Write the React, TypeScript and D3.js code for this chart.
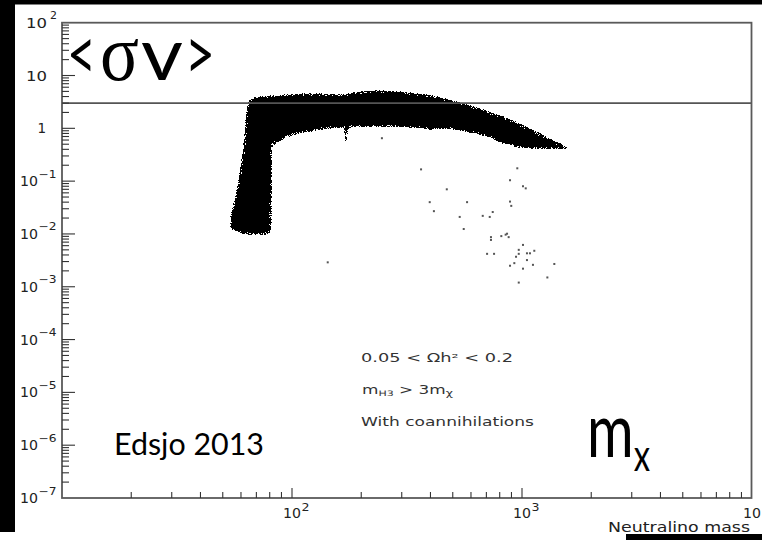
import React from "react";
import * as d3 from "d3";

const W = 762;
const H = 540;

// Dense band of neutralino models: mass (GeV) with lower and upper <σv> envelope
const bandMass = [53.8, 55.4, 58.3, 61.2, 63.1, 64.4, 69, 74, 79, 81.6, 82.2, 86, 95, 112, 132, 157, 168, 170, 172, 174, 176, 184, 241, 303, 385, 400, 420, 500, 590, 700, 830, 980, 1290, 1500, 1620];
const bandUpper = [0.022, 0.034, 0.105, 0.44, 1.95, 3.4, 3.9, 4.1, 4.2, 4.25, 4.27, 4.3, 4.4, 4.6, 4.6, 4.5, 4.45, 4.45, 4.45, 4.5, 4.6, 5.0, 5.3, 5.0, 4.45, 4.3, 4.1, 3.44, 2.8, 2.2, 1.7, 1.26, 0.69, 0.5, 0.41];
const bandLower = [0.013, 0.0115, 0.0108, 0.01, 0.0098, 0.0097, 0.0095, 0.0095, 0.0097, 0.012, 0.45, 0.52, 0.68, 0.81, 0.93, 1.0, 1.0, 0.6, 0.4, 0.6, 1.0, 1.05, 1.05, 1.05, 0.97, 0.9, 0.97, 0.95, 0.82, 0.7, 0.5, 0.42, 0.4, 0.4, 0.4];

// Isolated models below the band
const outlierMass = [364, 471, 397, 414, 577, 536, 558, 675, 724, 746, 954, 887, 1010, 1038, 887, 898, 733, 733, 813, 849, 861, 875, 705, 756, 1010, 968, 968, 1051, 1083, 1131, 942, 1051, 926, 887, 1116, 1010, 1382, 1289, 968, 143, 246];
const outlierSigmaV = [0.167, 0.07, 0.04, 0.027, 0.04, 0.021, 0.0124, 0.022, 0.021, 0.026, 0.175, 0.104, 0.08, 0.073, 0.041, 0.034, 0.0087, 0.0077, 0.0091, 0.0097, 0.0101, 0.0087, 0.0042, 0.0042, 0.0062, 0.005, 0.0042, 0.0043, 0.0043, 0.0048, 0.0037, 0.0032, 0.0028, 0.0025, 0.0026, 0.0022, 0.0027, 0.0015, 0.0012, 0.0029, 0.65];

// Thermal relic reference level
const relicSigmaV = 3;

// Axis labels
const xLabelExponents = [2, 3, 4];
const yLabelExponents = [2, 1, 0, -1, -2, -3, -4, -5, -6, -7];
const xAxisTitle = "Neutralino mass";
const cutLines = ["0.05 < Ωh² < 0.2", "With coannihilations"];

const axisFont = "DejaVu Sans";
const ink = "#222";

export default function App() {
  const x = d3.scaleLog().domain([10, 1e4]).range([62, 752]);
  const y = d3.scaleLog().domain([1e-7, 1e2]).range([498, 22.7]);
  const left = 62;
  const right = 751.5;
  const top = 22.7;
  const bottom = 498;

  const band = bandMass.map((m, i) => ({ m, hi: bandUpper[i], lo: bandLower[i] }));
  const area = d3
    .area<{ m: number; hi: number; lo: number }>()
    .x((d) => x(d.m))
    .y0((d) => y(d.lo))
    .y1((d) => y(d.hi))
    .curve(d3.curveLinear);

  const isMajor = (t: number) => Math.abs(Math.log10(t) - Math.round(Math.log10(t))) < 1e-6;
  const xTicks = x.ticks().filter((t) => t > 10 && t < 1e4);
  const yTicks = y.ticks().filter((t) => t > 1e-7 && t < 1e2);

  return (
    <svg
      width={W}
      height={H}
      viewBox={`0 0 ${W} ${H}`}
      style={{ position: "absolute", left: 0, top: 0, background: "#fff" }}
    >
      <defs>
        {/* grainy edge: scattered points thin out where the model density drops */}
        <filter id="grain" filterUnits="userSpaceOnUse" x={0} y={0} width={W} height={H}>
          <feGaussianBlur in="SourceAlpha" stdDeviation={1.2} result="soft" />
          <feTurbulence type="fractalNoise" baseFrequency={0.9} numOctaves={2} seed={7} result="noiseRaw" />
          <feComponentTransfer in="noiseRaw" result="noise">
            <feFuncA type="linear" slope={3} intercept={-1} />
          </feComponentTransfer>
          <feComposite in="soft" in2="noise" operator="arithmetic" k1={1} k2={1} k3={0} k4={-0.5} result="mix" />
          <feComponentTransfer in="mix" result="mask">
            <feFuncA type="discrete" tableValues="0 1" />
          </feComponentTransfer>
          <feFlood floodColor="#000" result="ink" />
          <feComposite in="ink" in2="mask" operator="in" />
        </filter>
      </defs>
      <rect x={0} y={0} width={W} height={H} fill="#fff" />
      {/* page edges */}
      <rect x={0} y={0} width={W} height={4.5} fill="#000" />
      <rect x={0} y={0} width={15} height={532} fill="#000" />
      <rect x={626} y={534} width={136} height={6} fill="#000" />

      {/* model band */}
      <path d={area(band) ?? ""} fill="#000" filter="url(#grain)" />
      {outlierMass.map((m, i) => (
        <rect key={i} x={x(m) - 1} y={y(outlierSigmaV[i]) - 1} width={2} height={2} fill="#555" />
      ))}

      {/* relic line */}
      <line x1={left} x2={right} y1={y(relicSigmaV)} y2={y(relicSigmaV)} stroke="#555" strokeWidth={1.6} />

      {/* frame */}
      <rect x={left} y={top} width={right - left} height={bottom - top} fill="none" stroke="#5a5a5a" strokeWidth={1.8} />

      {/* ticks */}
      {xTicks.map((t) => (
        <line key={"xt" + t} x1={x(t)} x2={x(t)} y1={bottom} y2={bottom - (isMajor(t) ? 10 : 6)} stroke="#333" strokeWidth={1.1} />
      ))}
      {yTicks.map((t) => (
        <line key={"yt" + t} x1={left} x2={left + (isMajor(t) ? 13 : 7)} y1={y(t)} y2={y(t)} stroke="#333" strokeWidth={1.1} />
      ))}

      {/* x labels */}
      {xLabelExponents.map((e) => {
        const cx = x(Math.pow(10, e));
        return (
          <g key={"xl" + e} fill={ink} fontFamily={axisFont}>
            <text x={cx} y={518} fontSize={13.5} textAnchor="middle" textLength={18} lengthAdjust="spacingAndGlyphs">10</text>
            {cx + 9.5 < W - 4 && (
              <text x={cx + 9.5} y={510.5} fontSize={10} textLength={8} lengthAdjust="spacingAndGlyphs">{e}</text>
            )}
          </g>
        );
      })}
      <text x={608} y={532} fontFamily={axisFont} fontSize={13.5} fill={ink} textLength={142} lengthAdjust="spacingAndGlyphs">
        {xAxisTitle}
      </text>

      {/* y labels */}
      {yLabelExponents.map((e) => {
        const ty = y(Math.pow(10, e));
        if (e === 0)
          return (
            <text key="yl0" x={46} y={ty + 5} fontFamily={axisFont} fontSize={13.5} fill={ink} textAnchor="end">1</text>
          );
        if (e === 1)
          return (
            <text key="yl1" x={47} y={ty + 5} fontFamily={axisFont} fontSize={13.5} fill={ink} textAnchor="end" textLength={21} lengthAdjust="spacingAndGlyphs">10</text>
          );
        const neg = e < 0;
        const baseEnd = neg ? 38 : 47;
        return (
          <g key={"yl" + e} fill={ink} fontFamily={axisFont}>
            <text x={baseEnd} y={ty + 5} fontSize={13.5} textAnchor="end" textLength={neg ? 18 : 21} lengthAdjust="spacingAndGlyphs">10</text>
            <text x={neg ? 38.5 : 50} y={ty - 3.5} fontSize={10} textLength={neg ? 18 : 7} lengthAdjust="spacingAndGlyphs">
              {neg ? "\u2212" + Math.abs(e) : String(e)}
            </text>
          </g>
        );
      })}

      {/* selection cuts */}
      <g fontFamily={axisFont} fontSize={11.5} fill="#333">
        <text x={361} y={362} textLength={152} lengthAdjust="spacingAndGlyphs">{cutLines[0]}</text>
        <text x={362} y={394} textLength={91} lengthAdjust="spacingAndGlyphs">
          m<tspan fontSize={7.5} dy={1.5}>H3</tspan>
          <tspan dy={-1.5}>{" > 3m"}</tspan>
          <tspan fontSize={8.5} dy={2}>χ</tspan>
        </text>
        <text x={361} y={426} textLength={173} lengthAdjust="spacingAndGlyphs">{cutLines[1]}</text>
      </g>

      {/* big annotations */}
      <g fill="#000">
        <text x={67} y={80} fontFamily="Lato" fontSize={73} textLength={29} lengthAdjust="spacingAndGlyphs">{"<"}</text>
        <text x={100} y={80} fontFamily="Liberation Serif" fontSize={80} textLength={39} lengthAdjust="spacingAndGlyphs">σ</text>
        <text x={141} y={80} fontFamily="Lato" fontSize={73} textLength={42} lengthAdjust="spacingAndGlyphs">v</text>
        <text x={185} y={80} fontFamily="Lato" fontSize={73} textLength={30} lengthAdjust="spacingAndGlyphs">{">"}</text>
        <text x={114} y={455} fontFamily="Lato" fontSize={30} textLength={150} lengthAdjust="spacingAndGlyphs">Edsjo 2013</text>
        <text x={587} y={457} fontFamily="Lato" fontSize={76} textLength={63} lengthAdjust="spacingAndGlyphs">
          m<tspan fontSize={44} dy={14}>x</tspan>
        </text>
      </g>
    </svg>
  );
}
